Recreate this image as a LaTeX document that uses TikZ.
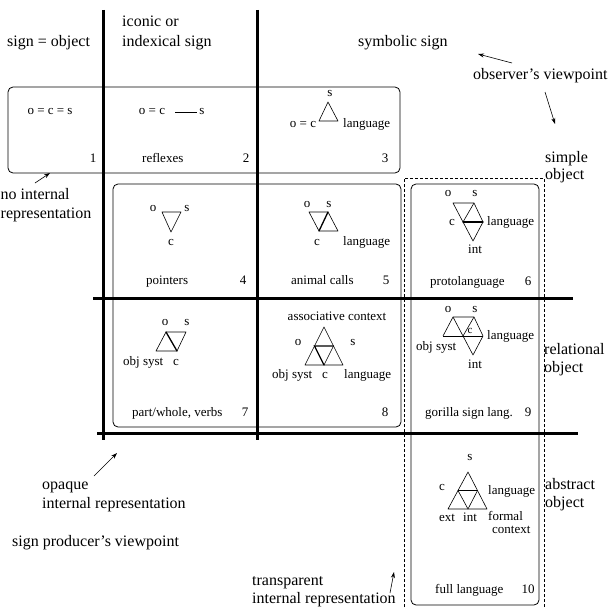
\documentclass[tikz,border=0pt]{standalone}
\usepackage{fontspec}
\setmainfont{Liberation Serif}
\usetikzlibrary{arrows.meta}
\begin{document}
\begin{tikzpicture}[x=1pt,y=-1pt,
  big/.style={font=\fontsize{16}{19}\selectfont, inner sep=0pt},
  sml/.style={font=\fontsize{13}{15}\selectfont, inner sep=0pt},
  tiny/.style={font=\fontsize{11}{13}\selectfont, inner sep=0pt},
  bar/.style={line width=3pt},
  box/.style={line width=0.8pt, rounded corners=5pt},
  dashbox/.style={line width=0.7pt, dash pattern=on 3pt off 2pt},
  tri/.style={line width=0.6pt, line join=round},
  boldedge/.style={line width=1.3pt, line cap=round},
  arr/.style={line width=0.6pt, -{Stealth[length=6pt,width=4pt]}}]
\useasboundingbox (0,0) rectangle (615,607);

% grid bars
\draw[bar] (103,10) -- (103,440);
\draw[bar] (257,10) -- (257,440);
\draw[bar] (93,298) -- (573,298);
\draw[bar] (97,433) -- (578,433);

% boxes
\draw[box] (8,87) rectangle (400,173);
\draw[box] (113,184) rectangle (401,427);
\draw[box] (411,184) rectangle (539,605);
\draw[dashbox] (404,612) -- (404,178) -- (544,178) -- (544,612);

% margin labels
\node[big,anchor=mid west] (signobj) at (7,44) {sign = object};
\node[big,anchor=mid west] (iconic1) at (122,24) {iconic or};
\node[big,anchor=mid west] (iconic2) at (122,44) {indexical sign};
\node[big,anchor=mid west] (symb) at (358,44) {symbolic sign};
\node[big,anchor=mid west] (obs) at (473,77) {observer's viewpoint};
\node[big,anchor=mid west] (simp1) at (545,160) {simple};
\node[big,anchor=mid west] (simp2) at (545,177) {object};
\node[big,anchor=mid west] (rel1) at (544,352) {relational};
\node[big,anchor=mid west] (rel2) at (544,370) {object};
\node[big,anchor=mid west] (abs1) at (545,487) {abstract};
\node[big,anchor=mid west] (abs2) at (545,505) {object};
\node[big,anchor=mid west] (noint1) at (0.5,197) {no internal};
\node[big,anchor=mid west] (noint2) at (0.5,216) {representation};
\node[big,anchor=mid west] (opq1) at (42,487) {opaque};
\node[big,anchor=mid west] (opq2) at (42,506) {internal representation};
\node[big,anchor=mid west] (prod) at (12,544) {sign producer's viewpoint};
\node[big,anchor=mid west] (trans1) at (252,583) {transparent};
\node[big,anchor=mid west] (trans2) at (252,601) {internal representation};

% arrows
\coordinate (a1s) at (35,183); \coordinate (a1e) at (50,173);
\draw[arr] (a1s) -- (a1e);
\coordinate (a2s) at (512,63); \coordinate (a2e) at (478,54);
\draw[arr] (a2s) -- (a2e);
\coordinate (a3s) at (545,92); \coordinate (a3e) at (555,124);
\draw[arr] (a3s) -- (a3e);
\coordinate (a4s) at (94,476); \coordinate (a4e) at (117,453);
\draw[arr] (a4s) -- (a4e);
\coordinate (a5s) at (390,593); \coordinate (a5e) at (394,572);
\draw[arr] (a5s) -- (a5e);

% cell 1
\node[sml,anchor=mid] (c1t) at (50,112) {o = c = s};
\node[sml,anchor=mid] (n1) at (93,160) {1};

% cell 2
\node[sml,anchor=mid] (c2oc) at (152,112) {o = c};
\node[sml,anchor=mid] (c2s) at (202,112) {s};
\draw[tri] ([xshift=10pt]c2oc.mid east) -- ([xshift=-2.5pt]c2s.mid west);
\node[sml,anchor=mid west] (l2) at (142,160) {reflexes};
\node[sml,anchor=mid] (n2) at (246,160) {2};

% cell 3
\node[sml,anchor=mid] (c3oc) at (303,125) {o = c};
\node[sml,anchor=mid] (c3s) at (330,94) {s};
\coordinate (t3a) at (328,102); \coordinate (t3b) at (319,121); \coordinate (t3c) at (338,121);
\draw[tri] (t3a) -- (t3b) -- (t3c) -- cycle;
\node[sml,anchor=mid west] (c3l) at (343,125) {language};
\node[sml,anchor=mid] (n3) at (385,160) {3};

% cell 4
\node[sml,anchor=mid] (c4o) at (153,209) {o};
\node[sml,anchor=mid] (c4s) at (187,209) {s};
\coordinate (t4a) at (162,212); \coordinate (t4b) at (181,212); \coordinate (t4c) at (171,232);
\draw[tri] (t4a) -- (t4b) -- (t4c) -- cycle;
\node[sml,anchor=mid] (c4c) at (171,243) {c};
\node[sml,anchor=mid west] (l4) at (146,282) {pointers};
\node[sml,anchor=mid] (n4) at (243,282) {4};

% cell 5
\node[sml,anchor=mid] (c5o) at (307,205) {o};
\node[sml,anchor=mid] (c5s) at (329,205) {s};
\coordinate (t5a) at (309,212); \coordinate (t5b) at (328,212);
\coordinate (t5c) at (319,231); \coordinate (t5d) at (338,231);
\draw[tri] (t5c) -- (t5a) -- (t5b) -- (t5d) -- (t5c);
\draw[boldedge] (t5b) -- (t5c);
\node[sml,anchor=mid] (c5c) at (317,243) {c};
\node[sml,anchor=mid west] (c5l) at (343,243) {language};
\node[sml,anchor=mid west] (l5) at (291,282) {animal calls};
\node[sml,anchor=mid] (n5) at (386,282) {5};

% cell 6
\node[sml,anchor=mid] (c6o) at (448,194) {o};
\node[sml,anchor=mid] (c6s) at (475,194) {s};
\coordinate (p1) at (453,203); \coordinate (p2) at (474,203);
\coordinate (p3) at (463,222); \coordinate (p4) at (483,222);
\coordinate (p5) at (473,241);
\draw[tri] (p3) -- (p1) -- (p2) -- (p4) -- (p5) -- (p3);
\draw[tri] (p2) -- (p3);
\draw[boldedge] (p3) -- (p4);
\node[sml,anchor=mid] (c6c) at (452,223) {c};
\node[sml,anchor=mid west] (c6l) at (487,223) {language};
\node[sml,anchor=mid] (c6i) at (475,251) {int};
\node[sml,anchor=mid west] (l6) at (430,283) {protolanguage};
\node[sml,anchor=mid] (n6) at (528,283) {6};

% cell 7
\node[sml,anchor=mid] (c7o) at (165,323) {o};
\node[sml,anchor=mid] (c7s) at (187,323) {s};
\coordinate (q1) at (166,332); \coordinate (q2) at (156,351);
\coordinate (q3) at (177,351); \coordinate (q4) at (186,332);
\draw[tri] (q1) -- (q2) -- (q3) -- (q4) -- (q1);
\draw[boldedge] (q1) -- (q3);
\node[sml,anchor=mid west] (c7os) at (123,363) {obj syst};
\node[sml,anchor=mid] (c7c) at (176,363) {c};
\node[sml,anchor=mid west] (l7) at (132,414) {part/whole, verbs};
\node[sml,anchor=mid] (n7) at (245,414) {7};

% cell 8
\node[sml,anchor=mid] (c8ac) at (337,318) {associative context};
\node[sml,anchor=mid] (c8o) at (298,343) {o};
\node[sml,anchor=mid] (c8s) at (353,343) {s};
\coordinate (r1) at (324,327); \coordinate (r2) at (305,365); \coordinate (r3) at (343,365);
\coordinate (r4) at (314.5,346); \coordinate (r5) at (333.5,346); \coordinate (r6) at (324,365);
\draw[tri] (r1) -- (r2) -- (r3) -- cycle;
\draw[tri] (r5) -- (r6);
\draw[boldedge] (r5) -- (r4) -- (r6);
\node[sml,anchor=mid west] (c8os) at (272,376) {obj syst};
\node[sml,anchor=mid] (c8c) at (325,376) {c};
\node[sml,anchor=mid west] (c8l) at (344,376) {language};
\node[sml,anchor=mid] (n8) at (385,414) {8};

% cell 9
\node[sml,anchor=mid] (c9o) at (448,310) {o};
\node[sml,anchor=mid] (c9s) at (475,310) {s};
\coordinate (s1) at (453,317); \coordinate (s2) at (474,317);
\coordinate (s3) at (443,336); \coordinate (s4) at (463,336);
\coordinate (s5) at (483,336); \coordinate (s6) at (473,355);
\draw[tri] (s3) -- (s1) -- (s2) -- (s5) -- (s6) -- (s4);
\draw[tri] (s3) -- (s5);
\draw[tri] (s1) -- (s4) -- (s2);
\node[tiny,anchor=mid] (c9c) at (470,331) {c};
\node[sml,anchor=mid west] (c9os) at (416,348) {obj syst};
\node[sml,anchor=mid west] (c9l) at (487,337) {language};
\node[sml,anchor=mid] (c9i) at (475,366) {int};
\node[sml,anchor=mid west] (l9) at (425,414) {gorilla sign lang.};
\node[sml,anchor=mid] (n9) at (528,414) {9};

% cell 10
\node[sml,anchor=mid] (c10s) at (470,458) {s};
\coordinate (u1) at (468,472); \coordinate (u2) at (448,509); \coordinate (u3) at (487,509);
\coordinate (u4) at (458,490.5); \coordinate (u5) at (477.5,490.5); \coordinate (u6) at (468,509);
\draw[tri] (u1) -- (u2) -- (u3) -- cycle;
\draw[tri] (u4) -- (u5) -- (u6) -- cycle;
\node[sml,anchor=mid] (c10c) at (442,488) {c};
\node[sml,anchor=mid west] (c10l) at (488,492) {language};
\node[sml,anchor=mid] (c10e) at (447,519) {ext};
\node[sml,anchor=mid] (c10i) at (470,519) {int};
\node[sml,anchor=mid west] (c10f) at (488,518) {formal};
\node[sml,anchor=mid west] (c10x) at (492,531) {context};
\node[sml,anchor=mid west] (l10) at (435,591) {full language};
\node[sml,anchor=mid] (n10) at (528,591) {10};
\end{tikzpicture}
\end{document}
